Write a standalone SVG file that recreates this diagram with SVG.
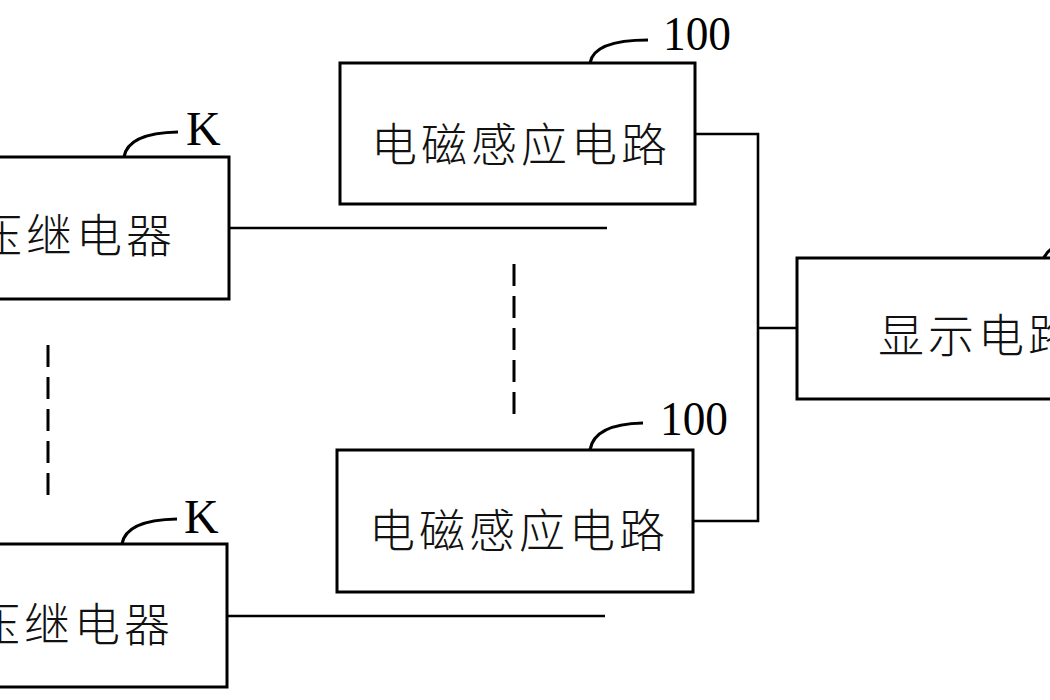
<svg xmlns="http://www.w3.org/2000/svg" width="1050" height="700" viewBox="0 0 1050 700">
<style>
.box{fill:#fff;stroke:#000;stroke-width:3}
.ln{fill:none;stroke:#000;stroke-width:2.6}
.dash{fill:none;stroke:#000;stroke-width:3;stroke-dasharray:22 10}
.lead{fill:none;stroke:#000;stroke-width:3.2}
.cn{font-family:"Noto Sans CJK SC","Noto Sans CJK JP",sans-serif;font-size:46px;font-weight:300;letter-spacing:4px;fill:#111}
.lb{font-family:"Liberation Serif","Times New Roman",serif;font-size:48px;fill:#000}
</style>
<rect width="1050" height="700" fill="#fff"/>
<g id="connectors">
<path class="ln" d="M229,228 H607"/>
<path class="ln" d="M227,616 H605"/>
<path class="ln" d="M695,134 H758 V521 H693"/>
<path class="ln" d="M758,328 H797"/>
<path class="dash" d="M48,345 V497"/>
<path class="dash" d="M514,264 V416"/>
</g>
<g id="relay1">
<rect class="box" x="-10" y="157" width="239" height="142"/>
<text class="cn" x="-24" y="252">压继电器</text>
<path class="lead" d="M124,157 Q128,133 178,132"/>
<text class="lb" x="186" y="145">K</text>
</g>
<g id="relay2">
<rect class="box" x="-10" y="544" width="237" height="143"/>
<text class="cn" x="-26" y="641">压继电器</text>
<path class="lead" d="M122,544 Q126,520 177,519"/>
<text class="lb" x="184" y="533">K</text>
</g>
<g id="emi1">
<rect class="box" x="340" y="63" width="355" height="141"/>
<text class="cn" x="371" y="161" letter-spacing="2">电磁感应电路</text>
<path class="lead" d="M590,63 Q594,40 648,40"/>
<text class="lb" x="663" y="50" font-size="50" textLength="68" lengthAdjust="spacingAndGlyphs">100</text>
</g>
<g id="emi2">
<rect class="box" x="337" y="450" width="356" height="142"/>
<text class="cn" x="369" y="547" letter-spacing="2">电磁感应电路</text>
<path class="lead" d="M590,450 Q594,424 643,423"/>
<text class="lb" x="660" y="435" font-size="50" textLength="68" lengthAdjust="spacingAndGlyphs">100</text>
</g>
<g id="display">
<rect class="box" x="797" y="258" width="270" height="141"/>
<text class="cn" x="878" y="352">显示电路</text>
<path class="lead" d="M1044,258 Q1047,251 1053,248"/>
</g>
</svg>
